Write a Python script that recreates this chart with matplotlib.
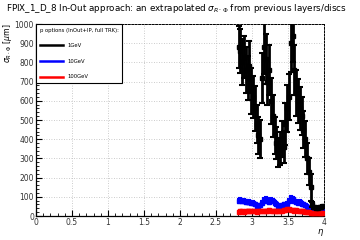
import numpy as np
import matplotlib
matplotlib.use("Agg")
import matplotlib.pyplot as plt
from matplotlib.lines import Line2D

# eta bin centres
eta = [2.8125 + 0.025 * i for i in range(48)]

sigma_1gev = [880, 860, 800, 830, 760, 720, 780, 650, 620, 560, 480, 420,
              400, 720, 880, 820, 700, 760, 600, 520, 420, 380, 330, 350,
              400, 360, 480, 560, 620, 900, 940, 760, 640, 600, 560, 520,
              450, 400, 300, 230, 150, 60, 45, 42, 44, 45, 46, 50]
err_1gev = [110, 115, 120, 110, 120, 115, 130, 120, 110, 115, 100, 95,
            100, 130, 140, 130, 120, 130, 120, 110, 95, 85, 75, 85,
            95, 85, 110, 120, 120, 150, 140, 130, 120, 115, 110, 100,
            95, 95, 80, 70, 70, 15, 8, 6, 6, 6, 6, 6]

sigma_10gev = [80, 82, 78, 76, 75, 72, 74, 70, 68, 60, 50, 45,
               55, 70, 85, 90, 80, 75, 82, 78, 70, 60, 52, 48,
               55, 60, 58, 65, 80, 95, 90, 80, 75, 70, 72, 65,
               60, 55, 45, 35, 28, 25, 22, 20, 20, 20, 20, 20]
err_10gev = [10] * 48

sigma_100gev = [22, 24, 25, 23, 24, 26, 25, 24, 25, 26, 22, 24,
                25, 27, 26, 25, 28, 30, 26, 24, 25, 27, 28, 26,
                27, 30, 32, 35, 34, 32, 30, 28, 30, 28, 27, 26,
                25, 22, 20, 20, 18, 18, 17, 16, 16, 15, 15, 15]
err_100gev = [5] * 48

labels = ["1GeV", "10GeV", "100GeV"]
colors = ["black", "blue", "red"]

fig = plt.figure(figsize=(3.6, 2.4), dpi=100)
ax = fig.add_axes([0.1, 0.1, 0.8, 0.8])

ax.errorbar(eta, sigma_1gev, yerr=err_1gev, fmt="s", color="black", ms=3,
            elinewidth=2.0, capsize=2, capthick=1.5, zorder=5)
ax.errorbar(eta, sigma_10gev, yerr=err_10gev, fmt="s", color="blue", ms=3,
            elinewidth=2.0, capsize=1.5, capthick=1.5, zorder=4)
ax.errorbar(eta, sigma_100gev, yerr=err_100gev, fmt="s", color="red", ms=3,
            elinewidth=2.0, capsize=1.5, capthick=1.5, zorder=4)

ax.set_xlim(0, 4)
ax.set_ylim(0, 1000)
ax.set_xticks(np.arange(0, 4.01, 0.5))
ax.set_xticklabels(["0", "0.5", "1", "1.5", "2", "2.5", "3", "3.5", "4"])
ax.set_xticks(np.arange(0, 4.01, 0.1), minor=True)
ax.set_yticks(np.arange(0, 1001, 100))
ax.set_yticks(np.arange(0, 1001, 20), minor=True)
ax.tick_params(which="both", direction="in", labelsize=5.5, colors="black",
               labelcolor="#333333", pad=1.5)
ax.tick_params(which="major", length=4, width=0.8)
ax.tick_params(which="minor", length=2, width=0.6)
ax.grid(True, which="major", linestyle=(0, (1, 2)), color="#bbbbbb", linewidth=0.6)

for s in ["left", "bottom"]:
    ax.spines[s].set_linewidth(0.9)
for s in ["top", "right"]:
    ax.spines[s].set_linestyle((0, (2, 1.5)))
    ax.spines[s].set_linewidth(0.7)

fig.text(0.49, 0.965, r"FPIX_1_D_8 In-Out approach: an extrapolated $\sigma_{R\cdot\Phi}$ from previous layers/discs",
         ha="center", va="center", fontsize=6.3)
fig.text(0.022, 0.9, r"$\sigma_{R\cdot\Phi}$ [$\mu$m]", rotation=90, ha="center", va="top", fontsize=5.6)
fig.text(0.89, 0.03, r"$\eta$", ha="center", va="center", fontsize=6)

handles = [Line2D([0], [0], color=c, lw=1.8) for c in colors]
leg = ax.legend(handles, labels, title="p options (InOut+IP, full TRK):",
                loc="upper left", bbox_to_anchor=(0.0, 1.0), fontsize=3.8,
                title_fontsize=3.8, fancybox=False, edgecolor="black",
                framealpha=1, handlelength=4.5, labelspacing=2.0,
                borderpad=0.7, alignment="left", borderaxespad=0.0)
leg.get_frame().set_linewidth(0.8)
leg.set_zorder(10)

fig.savefig("out.png", dpi=100)
